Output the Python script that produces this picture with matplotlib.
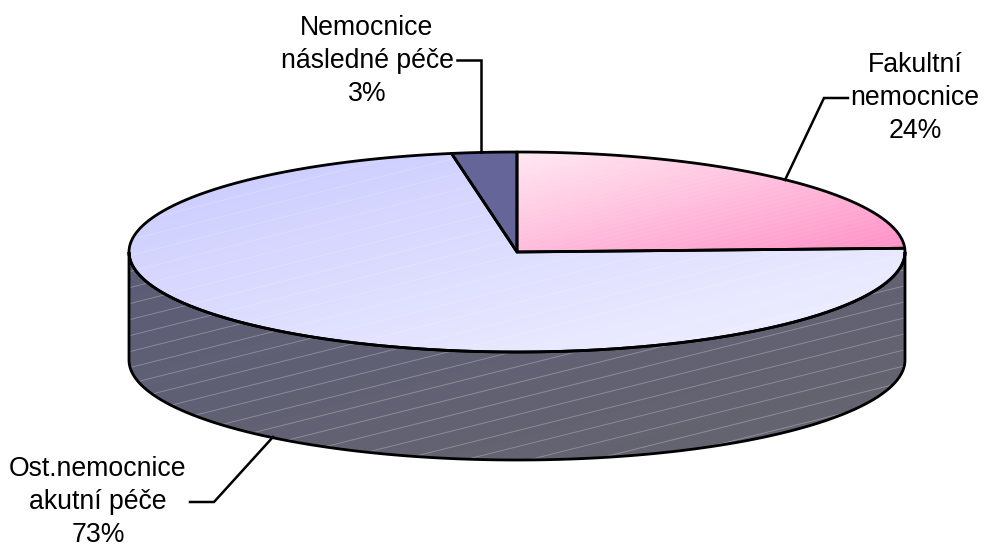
import numpy as np
import matplotlib
matplotlib.use("Agg")
import matplotlib.pyplot as plt
from matplotlib.patches import Polygon
from matplotlib.collections import LineCollection
from matplotlib.colors import LinearSegmentedColormap

# values of the slices, clockwise from the top
labels = ["Fakultní\nnemocnice\n24%", "Ost.nemocnice\nakutní péče\n73%", "Nemocnice\nnásledné péče\n3%"]
values = [24.4, 72.9, 2.7]

plt.rcParams["font.family"] = ["Liberation Sans", "DejaVu Sans"]

W, H = 984, 547
fig = plt.figure(figsize=(W / 100, H / 100), dpi=100)
ax = fig.add_axes([0, 0, 1, 1])
ax.set_xlim(0, W)
ax.set_ylim(H, 0)
ax.axis("off")

# pie geometry in picture pixels
cx, cy, rx, ry, depth = 517, 252, 388, 100, 108


def ell(t, dy=0):
    # t in degrees, clockwise from the top of the ellipse
    t = np.radians(t)
    return np.column_stack([cx + rx * np.sin(t), cy + dy - ry * np.cos(t)])


def slice_pts(a, b):
    return np.vstack([[cx, cy], ell(np.linspace(a, b, 200))])


def gradient(patch, c1, c2, box):
    # diagonal gradient clipped to the patch
    x0, x1, y0, y1 = box
    gx, gy = np.meshgrid(np.linspace(0, 1, 200), np.linspace(0, 1, 100))
    cmap = LinearSegmentedColormap.from_list("g", [c1, c2])
    im = ax.imshow(0.5 * gx + 0.5 * gy, cmap=cmap, extent=[x0, x1, y1, y0], aspect="auto", zorder=2, vmin=0, vmax=1)
    ax.add_patch(patch)
    im.set_clip_path(patch)


def stripes(patch, color, alpha, step, lw):
    # thin slanted lines of the pattern fill
    segs = [[(0, y), (W, y - W * 0.25)] for y in np.arange(0, H + W * 0.25, step)]
    lc = LineCollection(segs, colors=color, alpha=alpha, linewidths=lw, zorder=3)
    ax.add_collection(lc)
    lc.set_clip_path(patch)


edges = np.cumsum([0] + values) * 3.6

# side wall
low = ell(np.linspace(270, 90, 300), depth)
up = ell(np.linspace(90, 270, 300))
side = Polygon(np.vstack([low, up]), closed=True, fc="none", ec="none", zorder=2)
gradient(side, "#5C5C78", "#66666F", (129, 905, 252, 460))
stripes(side, "white", 0.3, 16, 0.6)

# top slices
fak = Polygon(slice_pts(edges[0], edges[1]), closed=True, fc="none", ec="none", zorder=2)
gradient(fak, "#FFE8F2", "#FF90C6", (517, 905, 152, 252))
stripes(fak, "white", 0.1, 4, 0.5)

ost = Polygon(slice_pts(edges[1], edges[2]), closed=True, fc="none", ec="none", zorder=2)
gradient(ost, "#C9C9FF", "#F2F2FF", (129, 905, 152, 352))
stripes(ost, "white", 0.2, 16, 0.6)

nas = Polygon(slice_pts(edges[2], edges[3]), closed=True, fc="#65659A", ec="none", zorder=2)
ax.add_patch(nas)

# outlines
for a, b in zip(edges[:-1], edges[1:]):
    ax.add_patch(Polygon(slice_pts(a, b), closed=True, fc="none", ec="black", lw=2.0, zorder=5, joinstyle="round"))
ax.add_patch(Polygon(np.vstack([low, up]), closed=True, fc="none", ec="black", lw=2.0, zorder=4))

# leader lines
leaders = [
    ([848, 824, 785], [98, 98, 180]),
    ([190, 214, 273], [502, 502, 437]),
    ([457, 481, 481], [60, 60, 152]),
]
for lx, ly in leaders:
    ax.plot(lx, ly, color="black", lw=1.8, zorder=4, solid_joinstyle="miter")

# labels
pos = [(915, 98), (98, 502), (367, 61)]
for s, (x, y) in zip(labels, pos):
    ax.text(x, y, s, ha="center", va="center", fontsize=19.2, linespacing=1.37, color="black", zorder=6)

ax.set_xlim(0, W)
ax.set_ylim(H, 0)
fig.savefig("out.png", dpi=100)
